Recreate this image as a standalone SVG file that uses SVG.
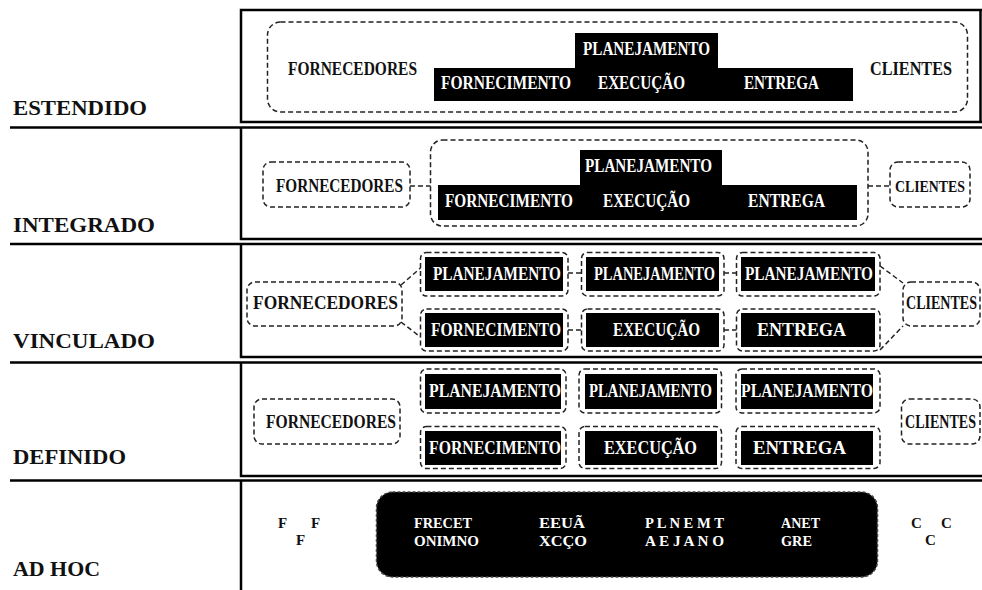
<svg xmlns="http://www.w3.org/2000/svg" width="982" height="590" viewBox="0 0 982 590">
  <style>
    text { font-family: "Liberation Serif", "Times New Roman", serif; font-weight: bold; }
    .lvl { font-size: 22px; fill: #111; }
    .lbl { font-size: 18px; fill: #111; }
    .sm { font-size: 17px; fill: #111; }
    .inv { font-size: 18px; fill: #fff; }
    .adh { font-size: 15px; fill: #fff; }
    .adk { font-size: 15px; fill: #111; }
    .frame { fill: none; stroke: #000; stroke-width: 2.5; }
    .dash { fill: none; stroke: #222; stroke-width: 1.5; stroke-dasharray: 5 3; }
    .blk { fill: #000; }
  </style>
  <rect width="982" height="590" fill="#fff"/>

  <!-- level frames and separators -->
  <g id="frames">
    <path class="frame" d="M982,10 H241 V122 H982"/>
    <path class="frame" d="M241,127.5 V239 H982"/>
    <path class="frame" d="M241,244 V357 H982"/>
    <path class="frame" d="M241,362.5 V476 H982"/>
    <path class="frame" d="M241,480.5 V590"/>
    <line class="frame" x1="980.5" y1="10" x2="980.5" y2="122"/>
    <line class="frame" x1="10" y1="127.5" x2="982" y2="127.5"/>
    <line class="frame" x1="10" y1="244" x2="982" y2="244"/>
    <line class="frame" x1="10" y1="362.5" x2="982" y2="362.5"/>
    <line class="frame" x1="10" y1="480.5" x2="982" y2="480.5"/>
  </g>

  <!-- level names -->
  <g id="levels">
    <text class="lvl" x="13" y="115" textLength="134" lengthAdjust="spacingAndGlyphs">ESTENDIDO</text>
    <text class="lvl" x="13" y="232" textLength="142" lengthAdjust="spacingAndGlyphs">INTEGRADO</text>
    <text class="lvl" x="13" y="348" textLength="142" lengthAdjust="spacingAndGlyphs">VINCULADO</text>
    <text class="lvl" x="13" y="464" textLength="113" lengthAdjust="spacingAndGlyphs">DEFINIDO</text>
    <text class="lvl" x="13" y="576" textLength="87" lengthAdjust="spacingAndGlyphs">AD HOC</text>
  </g>

  <!-- ESTENDIDO -->
  <g id="estendido">
    <rect class="dash" x="267.5" y="22" width="700" height="90" rx="13"/>
    <text class="lbl" x="288" y="75" textLength="129" lengthAdjust="spacingAndGlyphs">FORNECEDORES</text>
    <text class="lbl" x="870" y="75" textLength="82" lengthAdjust="spacingAndGlyphs">CLIENTES</text>
    <path class="blk" d="M434,68 H575 V33 H718 V68 H853 V101 H434 Z"/>
    <text class="inv" x="583" y="55" textLength="127" lengthAdjust="spacingAndGlyphs">PLANEJAMENTO</text>
    <text class="inv" x="441" y="89" textLength="130" lengthAdjust="spacingAndGlyphs">FORNECIMENTO</text>
    <text class="inv" x="598" y="89" textLength="87" lengthAdjust="spacingAndGlyphs">EXECUÇÃO</text>
    <text class="inv" x="744" y="89" textLength="75" lengthAdjust="spacingAndGlyphs">ENTREGA</text>
  </g>

  <!-- INTEGRADO -->
  <g id="integrado-fornecedores">
    <rect class="dash" x="263" y="162" width="147" height="45" rx="8"/>
    <text class="lbl" x="276" y="192" textLength="127" lengthAdjust="spacingAndGlyphs">FORNECEDORES</text>
  </g>
  <g id="integrado-empresa">
    <rect class="dash" x="430.5" y="140" width="437.5" height="86" rx="12"/>
    <path class="blk" d="M438,185 H580 V150 H722 V185 H857 V220 H438 Z"/>
    <text class="inv" x="585" y="172" textLength="127" lengthAdjust="spacingAndGlyphs">PLANEJAMENTO</text>
    <text class="inv" x="445" y="207" textLength="128" lengthAdjust="spacingAndGlyphs">FORNECIMENTO</text>
    <text class="inv" x="603" y="207" textLength="87" lengthAdjust="spacingAndGlyphs">EXECUÇÃO</text>
    <text class="inv" x="748" y="207" textLength="77" lengthAdjust="spacingAndGlyphs">ENTREGA</text>
  </g>
  <g id="integrado-clientes">
    <rect class="dash" x="890" y="162" width="80" height="45" rx="8"/>
    <text class="sm" x="895" y="192" textLength="70" lengthAdjust="spacingAndGlyphs">CLIENTES</text>
  </g>

  <!-- VINCULADO -->
  <g id="vinculado-fornecedores">
    <rect class="dash" x="247" y="282" width="155" height="44" rx="8"/>
    <text class="lbl" x="253" y="309" textLength="145" lengthAdjust="spacingAndGlyphs">FORNECEDORES</text>
  </g>
  <g id="vinculado-planejamento-1">
    <rect class="dash" x="420.5" y="252.5" width="147.5" height="43.5" rx="6"/>
    <rect class="blk" x="425" y="257" width="138" height="34"/>
    <text class="inv" x="433" y="280" textLength="128" lengthAdjust="spacingAndGlyphs">PLANEJAMENTO</text>
  </g>
  <g id="vinculado-planejamento-2">
    <rect class="dash" x="581.5" y="252.5" width="142.5" height="43.5" rx="6"/>
    <rect class="blk" x="586" y="257" width="133" height="34"/>
    <text class="inv" x="594" y="280" textLength="121" lengthAdjust="spacingAndGlyphs">PLANEJAMENTO</text>
  </g>
  <g id="vinculado-planejamento-3">
    <rect class="dash" x="736.5" y="252.5" width="143.5" height="43.5" rx="6"/>
    <rect class="blk" x="741" y="257" width="134" height="34"/>
    <text class="inv" x="745" y="280" textLength="128" lengthAdjust="spacingAndGlyphs">PLANEJAMENTO</text>
  </g>
  <g id="vinculado-fornecimento">
    <rect class="dash" x="420.5" y="309" width="147.5" height="42" rx="6"/>
    <rect class="blk" x="425" y="313" width="138" height="34"/>
    <text class="inv" x="431" y="336" textLength="130" lengthAdjust="spacingAndGlyphs">FORNECIMENTO</text>
  </g>
  <g id="vinculado-execucao">
    <rect class="dash" x="581.5" y="309" width="142.5" height="42" rx="6"/>
    <rect class="blk" x="586" y="313" width="133" height="34"/>
    <text class="inv" x="613" y="336" textLength="87" lengthAdjust="spacingAndGlyphs">EXECUÇÃO</text>
  </g>
  <g id="vinculado-entrega">
    <rect class="dash" x="736.5" y="309" width="143.5" height="42" rx="6"/>
    <rect class="blk" x="741" y="313" width="134" height="34"/>
    <text class="inv" x="757" y="336" textLength="89" lengthAdjust="spacingAndGlyphs">ENTREGA</text>
  </g>
  <g id="vinculado-clientes">
    <rect class="dash" x="903" y="282" width="77" height="44" rx="8"/>
    <text class="lbl" transform="translate(906,309) scale(0.78,1)">CLIENTES</text>
  </g>

  <!-- DEFINIDO -->
  <g id="definido-fornecedores">
    <rect class="dash" x="254" y="399" width="146" height="45" rx="8"/>
    <text class="lbl" x="266" y="428" textLength="130" lengthAdjust="spacingAndGlyphs">FORNECEDORES</text>
  </g>
  <g id="definido-planejamento-1">
    <rect class="dash" x="420.5" y="369" width="145.5" height="44" rx="6"/>
    <rect class="blk" x="425" y="374" width="136" height="35"/>
    <text class="inv" x="429" y="397" textLength="132" lengthAdjust="spacingAndGlyphs">PLANEJAMENTO</text>
  </g>
  <g id="definido-planejamento-2">
    <rect class="dash" x="579" y="369" width="142.5" height="44" rx="6"/>
    <rect class="blk" x="585" y="374" width="132" height="35"/>
    <text class="inv" x="589" y="397" textLength="123" lengthAdjust="spacingAndGlyphs">PLANEJAMENTO</text>
  </g>
  <g id="definido-planejamento-3">
    <rect class="dash" x="736" y="369" width="144" height="44" rx="6"/>
    <rect class="blk" x="741" y="374" width="132" height="35"/>
    <text class="inv" x="741" y="397" textLength="132" lengthAdjust="spacingAndGlyphs">PLANEJAMENTO</text>
  </g>
  <g id="definido-fornecimento">
    <rect class="dash" x="420.5" y="426.5" width="145.5" height="42" rx="6"/>
    <rect class="blk" x="425" y="431" width="136" height="34"/>
    <text class="inv" x="429" y="454" textLength="132" lengthAdjust="spacingAndGlyphs">FORNECIMENTO</text>
  </g>
  <g id="definido-execucao">
    <rect class="dash" x="579" y="426.5" width="142.5" height="42" rx="6"/>
    <rect class="blk" x="585" y="431" width="132" height="34"/>
    <text class="inv" x="604" y="454" textLength="93" lengthAdjust="spacingAndGlyphs">EXECUÇÃO</text>
  </g>
  <g id="definido-entrega">
    <rect class="dash" x="736" y="426.5" width="144" height="42" rx="6"/>
    <rect class="blk" x="741" y="431" width="132" height="34"/>
    <text class="inv" x="753" y="454" textLength="93" lengthAdjust="spacingAndGlyphs">ENTREGA</text>
  </g>
  <g id="definido-clientes">
    <rect class="dash" x="901.5" y="399" width="78.5" height="45" rx="8"/>
    <text class="lbl" transform="translate(905,428) scale(0.78,1)">CLIENTES</text>
  </g>

  <!-- AD HOC -->
  <g id="adhoc-fornecedores">
    <text class="adk" x="278" y="528">F</text>
    <text class="adk" x="311" y="528">F</text>
    <text class="adk" x="296" y="545">F</text>
  </g>
  <g id="adhoc-empresa">
    <rect x="376.5" y="492" width="501" height="85" rx="16" fill="#000" stroke="#444" stroke-width="1.5" stroke-dasharray="3 2"/>
    <text class="adh" x="414" y="528" textLength="58" lengthAdjust="spacingAndGlyphs">FRECET</text>
    <text class="adh" x="414" y="546" textLength="65" lengthAdjust="spacingAndGlyphs">ONIMNO</text>
    <text class="adh" x="539" y="528" textLength="46" lengthAdjust="spacingAndGlyphs">EEUÃ</text>
    <text class="adh" x="539" y="546" textLength="48" lengthAdjust="spacingAndGlyphs">XCÇO</text>
    <text class="adh" x="645" y="528" textLength="79" lengthAdjust="spacingAndGlyphs">P L N E M T</text>
    <text class="adh" x="645" y="546" textLength="79" lengthAdjust="spacingAndGlyphs">A E J A N O</text>
    <text class="adh" x="781" y="528" textLength="39" lengthAdjust="spacingAndGlyphs">ANET</text>
    <text class="adh" x="781" y="546" textLength="31" lengthAdjust="spacingAndGlyphs">GRE</text>
  </g>
  <g id="adhoc-clientes">
    <text class="adk" x="911" y="528">C</text>
    <text class="adk" x="941" y="528">C</text>
    <text class="adk" x="925" y="545">C</text>
  </g>

  <!-- connectors -->
  <g id="connectors">
    <line class="dash" x1="410" y1="186" x2="430.5" y2="186"/>
    <line class="dash" x1="868" y1="186" x2="890" y2="186"/>
    <line class="dash" x1="401" y1="285" x2="420.5" y2="268"/>
    <line class="dash" x1="401" y1="322" x2="420.5" y2="337"/>
    <line class="dash" x1="568" y1="273" x2="581.5" y2="273"/>
    <line class="dash" x1="724" y1="273" x2="736.5" y2="273"/>
    <line class="dash" x1="568" y1="330" x2="581.5" y2="330"/>
    <line class="dash" x1="724" y1="330" x2="736.5" y2="330"/>
    <line class="dash" x1="880" y1="266" x2="903" y2="283"/>
    <line class="dash" x1="880" y1="350" x2="903" y2="326"/>
  </g>
</svg>
